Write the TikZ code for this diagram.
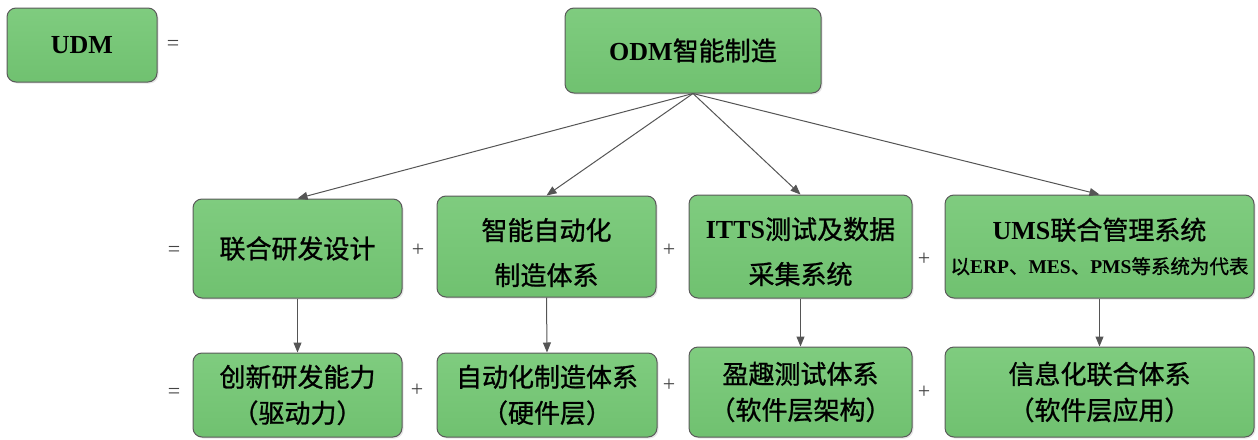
\documentclass[tikz,border=0pt]{standalone}
\usepackage{fontspec}
\setmainfont{Liberation Serif}
\newfontfamily\cjk{Noto Sans CJK SC}[FakeBold=1]
\usetikzlibrary{arrows.meta,shadows}
\definecolor{boxtop}{HTML}{7FCC7F}
\definecolor{boxbot}{HTML}{70C170}
\definecolor{boxedge}{HTML}{5A5A5A}
\definecolor{linegray}{HTML}{555555}
\definecolor{opgray}{HTML}{444444}
\newcommand\zh[1]{{\cjk\mdseries #1}}
\newcommand\lift[1]{\rule{0pt}{#1}}
\begin{document}
\begin{tikzpicture}[x=1pt,y=-1pt,
  box/.style={draw=boxedge, line width=1pt, rounded corners=9pt,
    top color=boxtop, bottom color=boxbot, inner sep=0pt, align=center,
    font=\bfseries\fontsize{26}{44}\selectfont,
    drop shadow={shadow xshift=1.5pt, shadow yshift=-1.5pt, opacity=0.2}},
  rowtwo/.style={font=\bfseries\fontsize{26}{45}\selectfont},
  rowthree/.style={font=\bfseries\fontsize{26}{36}\selectfont},
  op/.style={text=opgray, font=\fontsize{22}{22}\selectfont, inner sep=0pt},
  conn/.style={draw=linegray, line width=1pt, -{Triangle[length=10pt,width=8pt]}}]
\useasboundingbox (0,0) rectangle (1258,439);

% top row
\node[box, minimum width=150pt, minimum height=74pt] (udm) at (82,45) {UDM};
\node[op] (eq0) at (173,45) {=};
\node[box, minimum width=256pt, minimum height=85pt] (odm) at (693,50.5) {ODM\zh{智能制造}};

% second row
\node[op] (eq1) at (174,251) {=};
\node[box, rowtwo, minimum width=209pt, minimum height=99pt] (r2a) at (297.5,248.5) {\zh{联合研发设计}};
\node[op] (p21) at (418,250) {+};
\node[box, rowtwo, minimum width=219pt, minimum height=101pt] (r2b) at (546.5,246.5) {\lift{34pt}\zh{智能自动化}\\\zh{制造体系}};
\node[op] (p22) at (669,250) {+};
\node[box, rowtwo, minimum width=223pt, minimum height=103pt] (r2c) at (800.5,246.5) {\lift{32pt}ITTS\zh{测试及数据}\\\zh{采集系统}};
\node[op] (p23) at (924,259) {+};
\node[box, minimum width=309pt, minimum height=103pt, font=\bfseries\fontsize{26}{34}\selectfont] (r2d) at (1099.5,246.5)
  {UMS\zh{联合管理系统}\\{\fontsize{19.5}{34}\selectfont\zh{以}ERP\zh{、}MES\zh{、}PMS\zh{等系统为代表}}};

% third row
\node[op] (eq2) at (174,393) {=};
\node[box, rowthree, minimum width=209pt, minimum height=84pt] (r3a) at (297.5,395) {\zh{创新研发能力}\\\zh{（驱动力）}};
\node[op] (p31) at (417,390) {+};
\node[box, rowthree, minimum width=220pt, minimum height=84pt] (r3b) at (547,395) {\zh{自动化制造体系}\\\zh{（硬件层）}};
\node[op] (p32) at (669,385) {+};
\node[box, rowthree, minimum width=223pt, minimum height=90pt] (r3c) at (800.5,392) {\zh{盈趣测试体系}\\\zh{（软件层架构）}};
\node[op] (p33) at (924,392) {+};
\node[box, rowthree, minimum width=309pt, minimum height=90pt] (r3d) at (1099.5,392) {\zh{信息化联合体系}\\\zh{（软件层应用）}};

% connectors
\draw[conn] (odm.south) -- (r2a.north);
\draw[conn] (odm.south) -- (r2b.north);
\draw[conn] (odm.south) -- (r2c.north);
\draw[conn] (odm.south) -- (r2d.north);
\draw[conn] (r2a.south) -- (r3a.north);
\draw[conn] (r2b.south) -- (r3b.north);
\draw[conn] (r2c.south) -- (r3c.north);
\draw[conn] (r2d.south) -- (r3d.north);
\end{tikzpicture}
\end{document}
